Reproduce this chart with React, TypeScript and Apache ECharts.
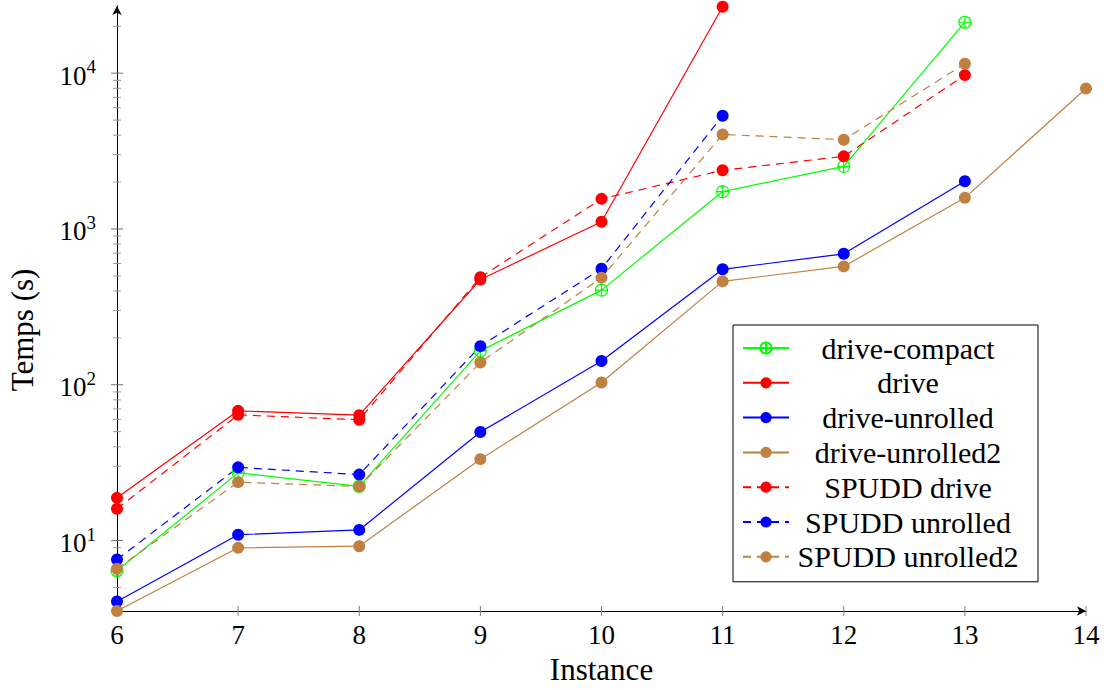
import React, { useEffect, useRef } from "react";
import * as echarts from "echarts";

const instances = [6, 7, 8, 9, 10, 11, 12, 13, 14];

const driveCompact = [6.4, 27.2, 22.3, 165, 405, 1738, 2523, 21240];
const drive = [18.8, 68, 63.8, 474, 1112, 26700];
const driveUnrolled = [4.06, 10.9, 11.7, 49.7, 142, 551, 693, 2024];
const driveUnrolled2 = [3.53, 8.98, 9.2, 33.3, 103.4, 461, 575, 1585, 7980];
const spuddDrive = [16.0, 64.1, 59.6, 490, 1561, 2381, 2926, 9720];
const spuddUnrolled = [7.55, 29.5, 26.5, 177, 556, 5335];
const spuddUnrolled2 = [6.59, 23.7, 22.2, 139, 487, 4045, 3743, 11490];

const xTicks = [6, 7, 8, 9, 10, 11, 12, 13, 14];
const yMajorTicks = [10, 100, 1000, 10000];
const yMinorTicks = [
  4, 5, 6, 7, 8, 9,
  20, 30, 40, 50, 60, 70, 80, 90,
  200, 300, 400, 500, 600, 700, 800, 900,
  2000, 3000, 4000, 5000, 6000, 7000, 8000, 9000,
  20000,
];

const Y_MIN = 3.53;
const Y_MAX = 27000;
const FONT = "'Liberation Serif', 'Times New Roman', serif";

const GREEN = "#00ff00";
const RED = "#ff0000";
const BLUE = "#0000ff";
const BROWN = "#bf8040";

const OPLUS = "path://M10,0A10,10,0,1,1,-10,0A10,10,0,1,1,10,0ZM-10,0L10,0M0,-10L0,10";

function pts(vals: number[]) {
  return vals.map((v, i) => [instances[i], v]);
}

export default function App() {
  const ref = useRef<HTMLDivElement>(null);
  useEffect(() => {
    if (!ref.current) return;
    const chart = echarts.init(ref.current, null, { renderer: "svg" });

    const mk = (name: string, vals: number[], color: string, dashed: boolean, symbol = "circle") => ({
      name,
      type: "line",
      data: pts(vals),
      clip: false,
      symbol,
      symbolSize: 12,
      showSymbol: true,
      lineStyle: { color, width: 1.2, type: dashed ? [8, 6] : "solid" },
      itemStyle:
        symbol === "circle"
          ? { color }
          : { color: "rgba(255,255,255,0)", borderColor: color, borderWidth: 1.2 },
      emphasis: { disabled: true },
    });

    const tickData: number[][] = [
      ...xTicks.map((x) => [x, Y_MIN, 0]),
      ...yMajorTicks.map((v) => [6, v, 1]),
      ...yMinorTicks.map((v) => [6, v, 2]),
    ];

    const names = [
      "drive-compact",
      "drive",
      "drive-unrolled",
      "drive-unrolled2",
      "SPUDD drive",
      "SPUDD unrolled",
      "SPUDD unrolled2",
    ];

    chart.setOption({
      animation: false,
      backgroundColor: "#fff",
      grid: { left: 117, right: 18, top: 6, bottom: 78, containLabel: false },
      xAxis: {
        type: "value",
        min: 6,
        max: 14,
        interval: 1,
        name: "Instance",
        nameLocation: "middle",
        nameGap: 43,
        nameTextStyle: { fontFamily: FONT, fontSize: 31, color: "#000" },
        axisLine: {
          onZero: false,
          lineStyle: { color: "#000", width: 1 },
          symbol: ["none", "arrow"],
          symbolSize: [7, 9],
        },
        axisTick: { show: false },
        splitLine: { show: false },
        axisLabel: { fontFamily: FONT, fontSize: 27, color: "#000", margin: 10 },
      },
      yAxis: {
        type: "log",
        logBase: 10,
        min: Y_MIN,
        max: Y_MAX,
        axisLine: {
          show: true,
          onZero: false,
          lineStyle: { color: "#000", width: 1 },
          symbol: ["none", "arrow"],
          symbolSize: [7, 9],
        },
        axisTick: { show: false },
        splitLine: { show: false },
        minorSplitLine: { show: false },
        axisLabel: {
          margin: 21,
          showMinLabel: false,
          showMaxLabel: false,
          formatter: (v: number) => {
            const e = Math.log10(v);
            if (Math.abs(e - Math.round(e)) > 1e-6) return "";
            return `{b|10}{s|${Math.round(e)}}`;
          },
          rich: {
            b: { fontFamily: FONT, fontSize: 27, color: "#000", lineHeight: 32, verticalAlign: "bottom" },
            s: { fontFamily: FONT, fontSize: 19, color: "#000", lineHeight: 19, verticalAlign: "top" },
          },
        },
      },
      legend: {
        orient: "vertical",
        left: 733,
        top: 325,
        padding: [8, 16, 10, 9],
        itemGap: 4.8,
        itemWidth: 46,
        itemHeight: 14,
        backgroundColor: "#fff",
        borderColor: "#000",
        borderWidth: 1,
        borderRadius: 0,
        data: names,
        selectedMode: false,
        formatter: (n: string) => `{c|${n}}`,
        textStyle: {
          fontFamily: FONT,
          fontSize: 30,
          color: "#000",
          rich: {
            c: { width: 228, align: "center", fontFamily: FONT, fontSize: 30, color: "#000", lineHeight: 28 },
          },
        },
      },
      graphic: [
        {
          type: "text",
          x: 22,
          y: 330,
          rotation: Math.PI / 2,
          style: {
            text: "Temps (s)",
            font: `31px 'Liberation Serif', serif`,
            fill: "#000",
            align: "center",
            verticalAlign: "middle",
          },
        },
      ],
      series: [
        {
          name: "ticks",
          type: "custom",
          silent: true,
          clip: false,
          z: 1,
          data: tickData,
          renderItem: (params: any, api: any) => {
            const kind = api.value(2);
            const p = api.coord([api.value(0), api.value(1)]);
            if (kind === 0) {
              return {
                type: "line",
                shape: { x1: p[0], y1: p[1] - 5, x2: p[0], y2: p[1] + 5 },
                style: { stroke: "#808080", lineWidth: 1 },
              };
            }
            const half = kind === 1 ? 6 : 4;
            return {
              type: "line",
              shape: { x1: p[0] - half, y1: p[1], x2: p[0] + half, y2: p[1] },
              style: { stroke: kind === 1 ? "#707070" : "#999999", lineWidth: 1 },
            };
          },
        },
        mk("drive-compact", driveCompact, GREEN, false, OPLUS),
        mk("drive", drive, RED, false),
        mk("drive-unrolled", driveUnrolled, BLUE, false),
        mk("drive-unrolled2", driveUnrolled2, BROWN, false),
        mk("SPUDD drive", spuddDrive, RED, true),
        mk("SPUDD unrolled", spuddUnrolled, BLUE, true),
        mk("SPUDD unrolled2", spuddUnrolled2, BROWN, true),
      ],
    });
    return () => chart.dispose();
  }, []);
  return <div ref={ref} style={{ width: 1104, height: 690, position: "absolute", left: 0, top: 0 }} />;
}
